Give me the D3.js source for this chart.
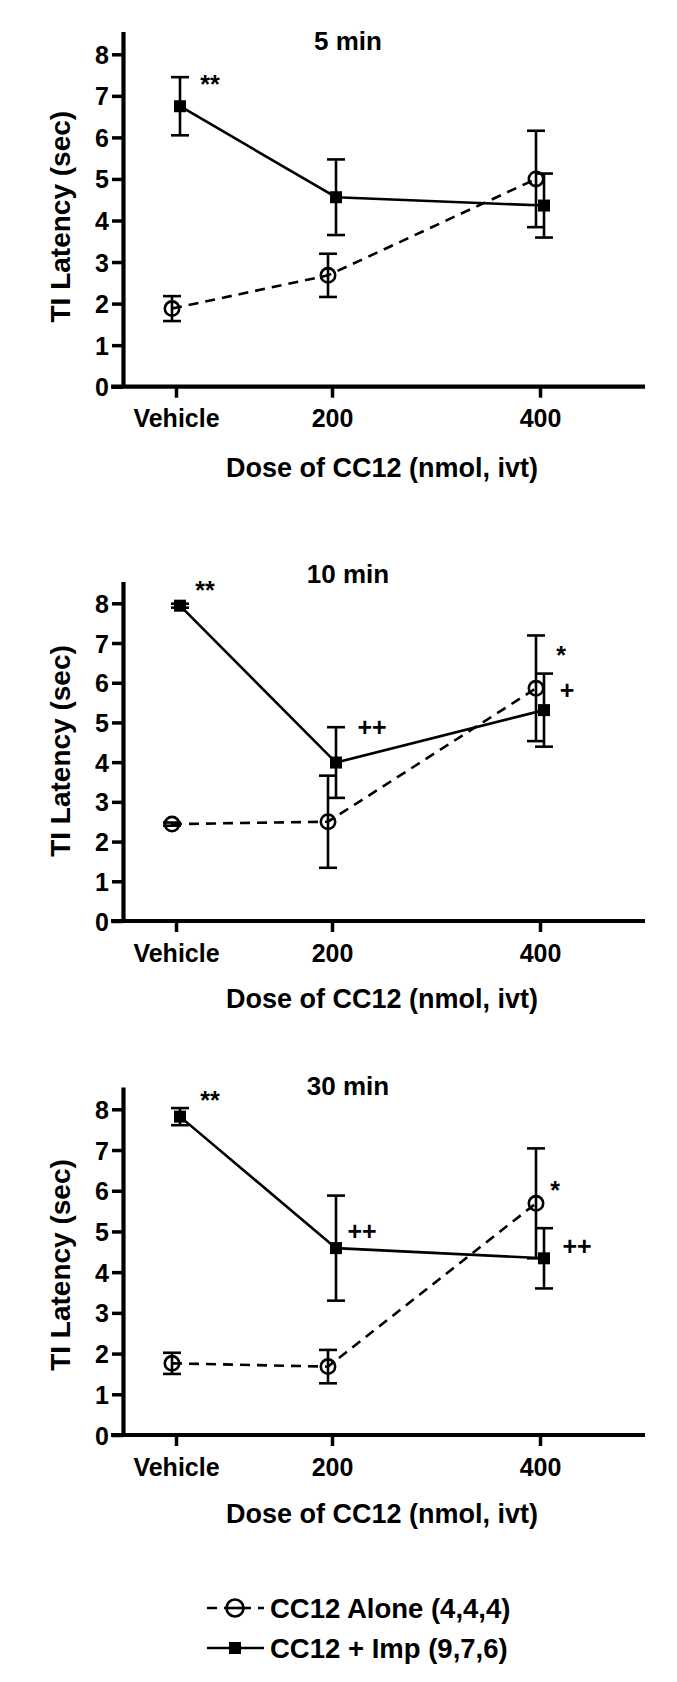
<!DOCTYPE html>
<html>
<head>
<meta charset="utf-8">
<script src="https://cdn.jsdelivr.net/npm/d3@7"></script>
<style>
  html, body { margin: 0; padding: 0; background: #fff; }
  svg text { font-family: "Liberation Sans", Arial, Helvetica, sans-serif; font-weight: bold; fill: #000; }
</style>
</head>
<body>
<script>
// ---------------- data ----------------
const categories = ["Vehicle", "200", "400"];
const panelTitles = ["5 min", "10 min", "30 min"];
const yTicks = [0, 1, 2, 3, 4, 5, 6, 7, 8];
const xTitle = "Dose of CC12 (nmol, ivt)";
const yTitle = "TI Latency (sec)";
const seriesNames = ["CC12 Alone (4,4,4)", "CC12 + Imp (9,7,6)"];

// CC12 alone (open circles, dashed)
const aloneMean = [
  [1.88, 2.68, 5.00],
  [2.44, 2.50, 5.86],
  [1.76, 1.68, 5.69]
];
const aloneSem = [
  [0.30, 0.52, 1.16],
  [0.04, 1.16, 1.33],
  [0.26, 0.41, 1.35]
];
// CC12 + Imp (filled squares, solid)
const impMean = [
  [6.75, 4.56, 4.36],
  [7.94, 3.99, 5.31],
  [7.82, 4.59, 4.34]
];
const impSem = [
  [0.70, 0.91, 0.77],
  [0.05, 0.89, 0.92],
  [0.21, 1.29, 0.74]
];
// significance marks: [text, category, y value (data units), dx px]
const marks = [
  [["**", "Vehicle", 7.41, 34]],
  [["**", "Vehicle", 8.46, 29], ["++", "200", 4.89, 40], ["*", "400", 6.83, 21], ["+", "400", 5.82, 27]],
  [["**", "Vehicle", 8.35, 34], ["++", "200", 5.01, 30], ["*", "400", 6.14, 15], ["++", "400", 4.64, 37]]
];

// ---------------- layout ----------------
const W = 677, H = 1682;
const yAxisX = 123, xAxisLeft = 111, xAxisRight = 645;
const tickPos = [176, 332, 540];
const yMaxAxis = 8.55;
const panels = [
  { y0: 386.7, y8: 54.3, titleY: 50, xTitleY: 477 },
  { y0: 921, y8: 603.3, titleY: 583, xTitleY: 1008 },
  { y0: 1435, y8: 1109.3, titleY: 1095, xTitleY: 1523 }
];
const titleX = 348, xTitleX = 382, yTitleX = 60;
const offs = { alone: -4, imp: 4 };

const svg = d3.select("body").append("svg").attr("width", W).attr("height", H);

const x = d3.scaleOrdinal().domain(categories).range(tickPos);

panels.forEach((L, p) => {
  const perUnit = (L.y0 - L.y8) / 8;
  const y = d3.scaleLinear().domain([0, yMaxAxis]).range([L.y0, L.y0 - perUnit * yMaxAxis]);
  const g = svg.append("g");

  // y axis
  const yAx = g.append("g").attr("transform", `translate(${yAxisX},0)`)
    .call(d3.axisLeft(y).tickValues(yTicks).tickSize(11).tickSizeOuter(0).tickPadding(3).tickFormat(d3.format("d")));
  yAx.select(".domain").attr("stroke", "#000").attr("stroke-width", 4.2);
  yAx.selectAll(".tick line").attr("stroke", "#000").attr("stroke-width", 3.5);
  yAx.selectAll(".tick text").style("font-size", "25px").attr("dy", "0.36em");

  // x axis
  const xAx = g.append("g").attr("transform", `translate(0,${L.y0})`)
    .call(d3.axisBottom(x).tickSize(11).tickPadding(12));
  xAx.select(".domain").remove();
  xAx.selectAll(".tick line").attr("stroke", "#000").attr("stroke-width", 3.5);
  xAx.selectAll(".tick text").style("font-size", "25px");
  g.append("line").attr("x1", xAxisLeft).attr("x2", xAxisRight).attr("y1", L.y0).attr("y2", L.y0)
    .attr("stroke", "#000").attr("stroke-width", 4.2);

  // titles
  g.append("text").attr("x", titleX).attr("y", L.titleY).attr("text-anchor", "middle")
    .style("font-size", "26px").text(panelTitles[p]);
  g.append("text").attr("x", xTitleX).attr("y", L.xTitleY).attr("text-anchor", "middle")
    .style("font-size", "27px").text(xTitle);
  g.append("text").attr("transform", `translate(${yTitleX},${L.y0 - 170}) rotate(-90)`)
    .attr("text-anchor", "middle").attr("dy", "0.36em")
    .style("font-size", "28px").text(yTitle);

  const series = [
    { key: "alone", mean: aloneMean[p], sem: aloneSem[p], dash: "10,7" },
    { key: "imp", mean: impMean[p], sem: impSem[p], dash: null }
  ];
  series.forEach(s => {
    const pts = categories.map((c, i) => ({ c, m: s.mean[i], e: s.sem[i] }));
    const line = d3.line().x(d => x(d.c) + offs[s.key]).y(d => y(d.m));
    g.append("path").datum(pts).attr("d", line).attr("fill", "none")
      .attr("stroke", "#000").attr("stroke-width", 2.6)
      .attr("stroke-dasharray", s.dash);
    const eb = g.append("g").selectAll("g").data(pts).join("g");
    eb.append("line").attr("x1", d => x(d.c) + offs[s.key]).attr("x2", d => x(d.c) + offs[s.key])
      .attr("y1", d => y(d.m - d.e)).attr("y2", d => y(d.m + d.e))
      .attr("stroke", "#000").attr("stroke-width", 2.6);
    [1, -1].forEach(sg => {
      eb.append("line").attr("x1", d => x(d.c) + offs[s.key] - 9).attr("x2", d => x(d.c) + offs[s.key] + 9)
        .attr("y1", d => y(d.m + sg * d.e)).attr("y2", d => y(d.m + sg * d.e))
        .attr("stroke", "#000").attr("stroke-width", 2.6);
    });
    s.pts = pts;
  });
  // markers
  series.forEach(s => {
    if (s.key === "alone") {
      g.append("g").selectAll("circle").data(s.pts).join("circle")
        .attr("cx", d => x(d.c) + offs.alone).attr("cy", d => y(d.m)).attr("r", 7.2)
        .attr("fill", "none").attr("stroke", "#000").attr("stroke-width", 2.6);
    } else {
      g.append("g").selectAll("rect").data(s.pts).join("rect")
        .attr("x", d => x(d.c) + offs.imp - 6).attr("y", d => y(d.m) - 6)
        .attr("width", 12).attr("height", 12).attr("fill", "#000");
    }
  });

  // significance marks
  g.append("g").selectAll("text").data(marks[p]).join("text")
    .attr("x", d => x(d[1]) + d[3]).attr("y", d => y(d[2]) + (d[0][0] === "*" ? 14 : 9))
    .attr("text-anchor", "middle").style("font-size", "25px").text(d => d[0]);
});

// ---------------- legend ----------------
const legY = [1608, 1648];
const lg = svg.append("g");
const lx0 = 207, lx1 = 264, lxc = 235;
lg.append("line").attr("x1", lx0).attr("x2", lx1).attr("y1", legY[0]).attr("y2", legY[0])
  .attr("stroke", "#000").attr("stroke-width", 2.6).attr("stroke-dasharray", "10,7");
lg.append("circle").attr("cx", lxc).attr("cy", legY[0]).attr("r", 8.5)
  .attr("fill", "#fff").attr("stroke", "#000").attr("stroke-width", 2.6);
lg.append("line").attr("x1", lxc - 8).attr("x2", lxc + 8).attr("y1", legY[0]).attr("y2", legY[0])
  .attr("stroke", "#000").attr("stroke-width", 2.6);
lg.append("line").attr("x1", lx0).attr("x2", lx1).attr("y1", legY[1]).attr("y2", legY[1])
  .attr("stroke", "#000").attr("stroke-width", 2.6);
lg.append("rect").attr("x", lxc - 6).attr("y", legY[1] - 6).attr("width", 12).attr("height", 12).attr("fill", "#000");
lg.selectAll("text.leg").data(seriesNames).join("text").attr("class", "leg")
  .attr("x", 270).attr("y", (d, i) => legY[i]).attr("dy", "0.36em")
  .style("font-size", "27.5px").text(d => d);
</script>
</body>
</html>
